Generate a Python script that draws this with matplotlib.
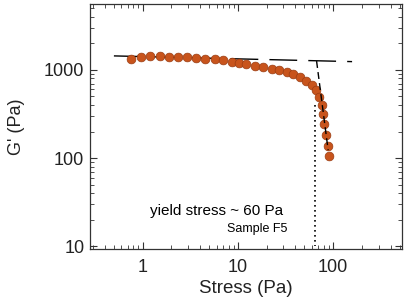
import matplotlib
matplotlib.use("Agg")
import matplotlib.pyplot as plt
from matplotlib.ticker import LogLocator, NullFormatter, FixedLocator

plt.rcParams['font.family'] = ['Liberation Sans', 'DejaVu Sans']

stress = [0.75, 0.97, 1.21, 1.51, 1.89, 2.35, 2.93, 3.67, 4.57, 5.72, 7.0, 8.6,
          10.3, 12.3, 15.1, 18.5, 22.6, 27.3, 32.5, 38.2, 44.9, 51.9, 59.5, 66.3,
          71.7, 76.0, 79.0, 80.9, 83.7, 87.6, 90.5]
gprime = [1333, 1416, 1442, 1430, 1416, 1405, 1390, 1370, 1345, 1323, 1290, 1243,
          1200, 1160, 1120, 1082, 1035, 990, 940, 893, 826, 756, 675, 593,
          497, 400, 316, 243, 183, 138, 107]

plateau_x = [0.5, 158]
plateau_y = [1442, 1242]
drop_x = [67, 88.6]
drop_y = [1260, 123]
yield_x = [65, 65]
yield_y = [400, 10]

fig = plt.figure(figsize=(4.05, 3.03), dpi=100)
ax = fig.add_axes([0.222, 0.178, 0.771, 0.809])

ax.plot(plateau_x, plateau_y, color='black', lw=1.0, dashes=(20, 8), zorder=1)
ax.plot(drop_x, drop_y, color='black', lw=1.0, dashes=(5, 3), zorder=3)
ax.plot(yield_x, yield_y, color='black', lw=1.2, ls=(0, (1, 2)), zorder=1)
ax.plot(stress, gprime, 'o', color='#C8541C', mec='#9a3c12', mew=0.5, ms=6.3, zorder=2)

ax.set_xscale('log')
ax.set_yscale('log')
ax.set_xlim(0.28, 530)
ax.set_ylim(9.3, 5600)

ax.xaxis.set_major_locator(FixedLocator([1, 10, 100]))
ax.set_xticklabels(['1', '10', '100'])
ax.yaxis.set_major_locator(FixedLocator([10, 100, 1000]))
ax.set_yticklabels(['10', '100', '1000'])
ax.xaxis.set_minor_locator(LogLocator(base=10, subs=range(2, 10)))
ax.yaxis.set_minor_locator(LogLocator(base=10, subs=range(2, 10)))
ax.xaxis.set_minor_formatter(NullFormatter())
ax.yaxis.set_minor_formatter(NullFormatter())

ax.tick_params(which='both', direction='in', top=True, right=True, labelsize=13, color='#333333',
               labelcolor='#222222')
ax.tick_params(axis='x', which='major', pad=7)
ax.tick_params(axis='y', which='major', pad=4)
ax.tick_params(which='major', length=5, width=0.8)
ax.tick_params(which='minor', length=3, width=0.6)
for s in ax.spines.values():
    s.set_color('#333333')
    s.set_linewidth(0.9)

ax.set_xlabel('Stress (Pa)', fontsize=13.5, labelpad=3, color='#222222')
ax.set_ylabel("G' (Pa)", fontsize=13, labelpad=14, color='#222222')

ax.text(0.405, 0.155, 'yield stress ~ 60 Pa', transform=ax.transAxes, fontsize=11, ha='center', va='center')
ax.text(0.535, 0.083, 'Sample F5', transform=ax.transAxes, fontsize=9, ha='center', va='center')

fig.savefig('out.png', dpi=100)
